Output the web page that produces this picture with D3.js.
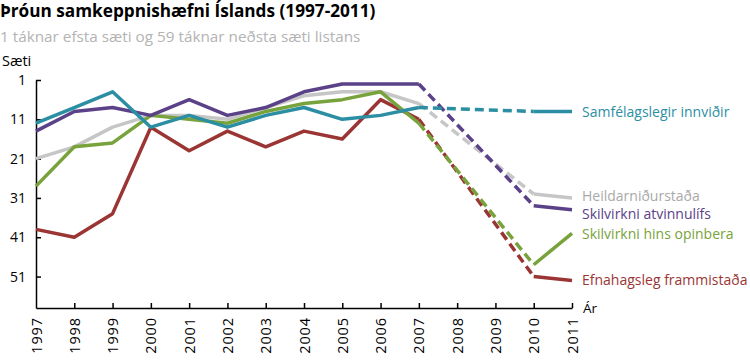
<!DOCTYPE html>
<meta charset="utf-8">
<html>
<head>
    <style>
        body { margin: 0; background: #fff; }
        text { font-family: "Open Sans", "Noto Sans", sans-serif; }
        .axis path, .axis line { stroke: #000; stroke-width: 1.5px; fill: none; }
        .axis text { font-size: 13px; fill: #000; }
        .line { fill: none; stroke-width: 3.5px; stroke-linejoin: round; }
        .dash { fill: none; stroke-width: 3.5px; stroke-dasharray: 9 5; }
    </style>
    <script src="https://d3js.org/d3.v7.min.js"></script>
</head>
<body>
<svg id="svg" width="750" height="362"></svg>
<script>

    var years = [1997, 1998, 1999, 2000, 2001, 2002, 2003, 2004, 2005, 2006, 2007, 2008, 2009, 2010, 2011];
    var yTicks = [1, 11, 21, 31, 41, 51];

    // rank per year, null = no ranking (dashed bridge)
    var heildar     = [21, 18, 13, 10, 10, 11, 8, 5, 4, 4, 7, null, null, 30, 31];
    var efnahags    = [39, 41, 35, 13, 19, 14, 18, 14, 16, 6, 11, null, null, 51, 52];
    var opinbera    = [28, 18, 17, 10, 11, 12, 9, 7, 6, 4, 12, null, null, 48, 40];
    var atvinnulifs = [14, 9, 8, 10, 6, 10, 8, 4, 2, 2, 2, null, null, 33, 34];
    var innvidir    = [12, 8, 4, 13, 10, 13, 10, 8, 11, 10, 8, null, null, 9, 9];

    var seriesNames = ["Heildarniðurstaða", "Efnahagsleg frammistaða", "Skilvirkni hins opinbera",
        "Skilvirkni atvinnulífs", "Samfélagslegir innviðir"];
    var seriesValues = [heildar, efnahags, opinbera, atvinnulifs, innvidir];
    var colors = ["#c6c6c6", "#9a3534", "#78a23b", "#5b4188", "#2b8ea3"];
    var labelColors = ["#a9a9a9", "#9a3534", "#78a23b", "#5b4188", "#2b8ea3"];
    var labelShift = [-2, 0, 1, 4, 1];

    var svg = d3.select("svg");

    var x = d3.scaleLinear().domain([1997, 2011]).range([36, 572]);
    var y = d3.scaleLinear().domain([1, 59]).range([80, 308]);

    svg.append("text")
        .attr("x", 0).attr("y", 17)
        .style("font-size", "17.2px").style("font-weight", "bold")
        .text("Þróun samkeppnishæfni Íslands (1997-2011)");

    svg.append("text")
        .attr("x", 0).attr("y", 42)
        .style("font-size", "15.3px").style("fill", "#b3b3b3")
        .text("1 táknar efsta sæti og 59 táknar neðsta sæti listans");

    svg.append("text")
        .attr("x", 2).attr("y", 66)
        .style("font-size", "14.5px")
        .text("Sæti");

    svg.append("text")
        .attr("x", 583).attr("y", 313)
        .style("font-size", "13.5px")
        .text("Ár");

    // axes
    var yAxis = svg.append("g").attr("class", "axis")
        .attr("transform", "translate(36,0)")
        .call(d3.axisLeft(y).tickValues(yTicks).tickSize(-5).tickPadding(10).tickSizeOuter(0));
    yAxis.selectAll("text").style("font-size", "14px");

    var xAxis = svg.append("g").attr("class", "axis")
        .attr("transform", "translate(0,308)")
        .call(d3.axisBottom(x).tickValues(years).tickFormat(d3.format("d")).tickSize(-5).tickSizeOuter(0));
    xAxis.selectAll("text")
        .attr("transform", "rotate(-90)")
        .attr("x", -9).attr("y", 0).attr("dy", "0.35em")
        .style("font-size", "14.5px")
        .style("letter-spacing", "0.9px")
        .style("text-anchor", "end");
    xAxis.select(".tick line").remove();

    var line = d3.line()
        .defined(function (d) { return d != null; })
        .x(function (d, i) { return x(years[i]); })
        .y(function (d) { return y(d); });

    seriesValues.forEach(function (vals, s) {
        // dashed bridges across missing years
        var last = -1;
        vals.forEach(function (v, i) {
            if (v == null) return;
            if (last >= 0 && i - last > 1) {
                svg.append("path").attr("class", "dash")
                    .attr("stroke", colors[s])
                    .attr("d", d3.line()([[x(years[last]), y(vals[last])], [x(years[i]), y(v)]]));
            }
            last = i;
        });
        svg.append("path").attr("class", "line")
            .attr("stroke", colors[s])
            .attr("d", line(vals));

        svg.append("text")
            .attr("x", 582)
            .attr("y", y(vals[vals.length - 1]) + labelShift[s])
            .attr("dy", "0.35em")
            .style("font-size", "14px")
            .style("fill", labelColors[s])
            .text(seriesNames[s]);
    });

</script>
</body>
</html>
